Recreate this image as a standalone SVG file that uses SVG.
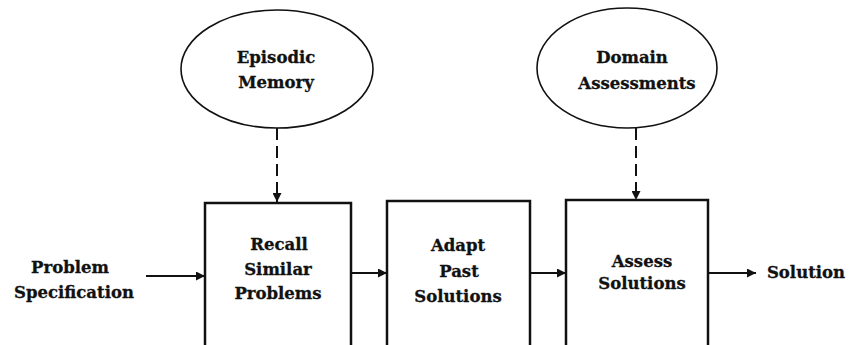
<svg xmlns="http://www.w3.org/2000/svg" width="849" height="345" viewBox="0 0 849 345">
  <style>
    .lbl { font-family: "DejaVu Serif", "Liberation Serif", serif; font-weight: bold; font-size: 16.5px; fill: #111; stroke: #111; stroke-width: 0.3; text-anchor: middle; dominant-baseline: central; }
    .box { fill: #fff; stroke: #111; stroke-width: 2.5; }
    .ell { fill: #fff; stroke: #111; stroke-width: 1.6; }
    .flow { stroke: #111; stroke-width: 2.2; fill: none; }
    .dash { stroke: #111; stroke-width: 2; fill: none; stroke-dasharray: 12 6; }
  </style>
  <defs>
    <marker id="head" viewBox="0 0 10 10" refX="10" refY="5" markerWidth="11" markerHeight="9" markerUnits="userSpaceOnUse" orient="auto">
      <path d="M0,0 L10,5 L0,10 z" fill="#111"/>
    </marker>
  </defs>
  <rect width="849" height="345" fill="#fff"/>

  <g id="connectors">
    <line class="dash" x1="277" y1="128" x2="277" y2="202" marker-end="url(#head)"/>
    <line class="dash" x1="636" y1="128" x2="636" y2="200" marker-end="url(#head)"/>
    <line class="flow" x1="146" y1="276" x2="205" y2="276" marker-end="url(#head)"/>
    <line class="flow" x1="351" y1="273" x2="387" y2="273" marker-end="url(#head)"/>
    <line class="flow" x1="530" y1="273" x2="566" y2="273" marker-end="url(#head)"/>
    <line class="flow" x1="708" y1="273" x2="756" y2="273" marker-end="url(#head)"/>
  </g>

  <g id="episodic-memory">
    <ellipse class="ell" cx="277" cy="69" rx="96" ry="59"/>
    <text class="lbl" x="276" y="57">Episodic</text>
    <text class="lbl" x="276" y="82">Memory</text>
  </g>

  <g id="domain-assessments">
    <ellipse class="ell" cx="627" cy="68" rx="90" ry="60"/>
    <text class="lbl" x="632" y="57">Domain</text>
    <text class="lbl" x="637" y="83">Assessments</text>
  </g>

  <g id="problem-specification">
    <text class="lbl" x="70" y="267">Problem</text>
    <text class="lbl" x="74" y="292">Specification</text>
  </g>

  <g id="recall">
    <rect class="box" x="205" y="203" width="146" height="150"/>
    <text class="lbl" x="279" y="244">Recall</text>
    <text class="lbl" x="278" y="269">Similar</text>
    <text class="lbl" x="278" y="293">Problems</text>
  </g>

  <g id="adapt">
    <rect class="box" x="387" y="201" width="143" height="152"/>
    <text class="lbl" x="458" y="245">Adapt</text>
    <text class="lbl" x="459" y="271">Past</text>
    <text class="lbl" x="458" y="296">Solutions</text>
  </g>

  <g id="assess">
    <rect class="box" x="566" y="200" width="142" height="153"/>
    <text class="lbl" x="642" y="261">Assess</text>
    <text class="lbl" x="642" y="283">Solutions</text>
  </g>

  <g id="solution">
    <text class="lbl" x="806" y="272">Solution</text>
  </g>
</svg>
